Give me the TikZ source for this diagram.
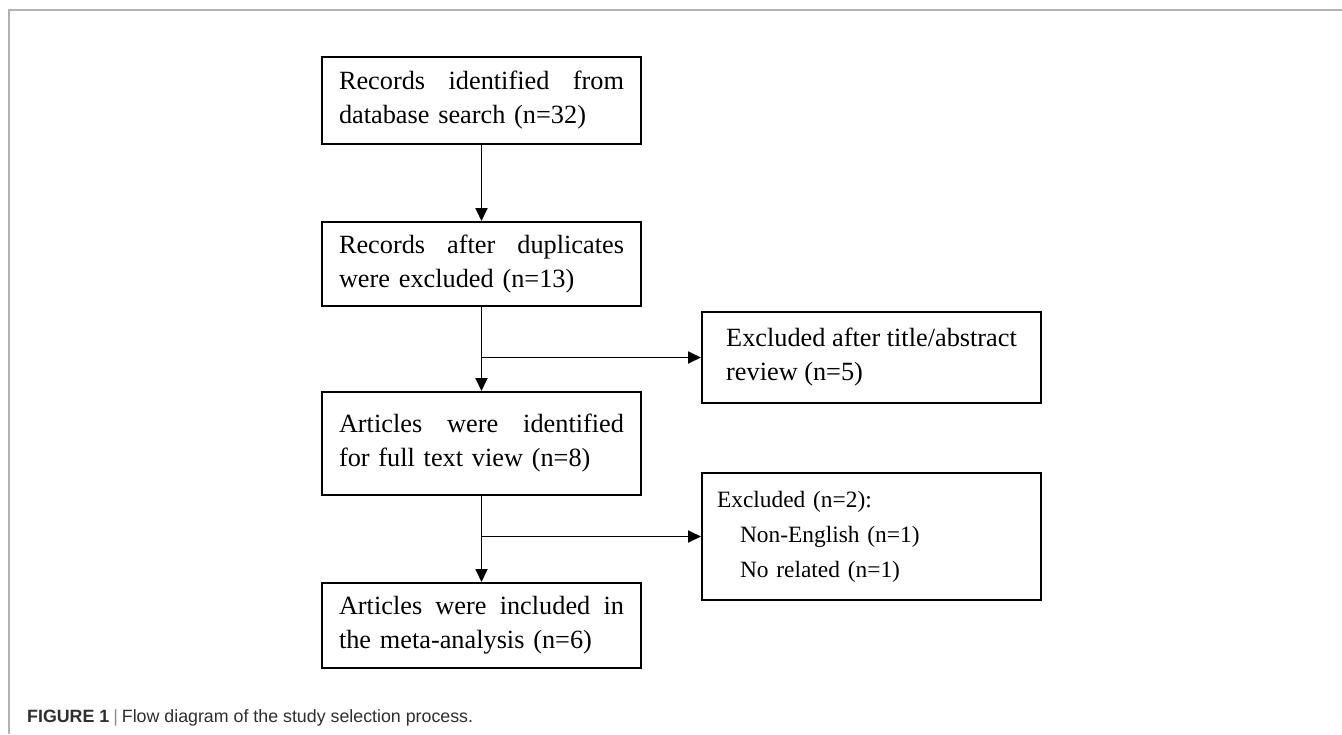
\documentclass[tikz,border=0pt]{standalone}
\usepackage{fontspec}
\setmainfont{Liberation Serif}
\newfontfamily\capfont{Liberation Sans}
\usetikzlibrary{arrows.meta}

\begin{document}
\begin{tikzpicture}[x=1pt,y=-1pt,
  box/.style={draw=black, line width=2pt, text width=285pt, inner xsep=17pt, inner ysep=0pt, minimum height=#1, align=left, font=\fontsize{26.3}{34}\selectfont},
  exbox/.style={draw=black, line width=2pt, minimum width=339pt, inner sep=0pt, minimum height=#1, align=left, font=\fontsize{26.3}{34}\selectfont},
  arr/.style={draw=black, line width=1.8pt, -{Triangle[length=13pt,width=12pt]}}
]
\useasboundingbox (0,0) rectangle (1342,734);
\draw [gray!60, line width=1.5pt] (9,734) -- (9,10) -- (1342,10);
% main column
\node [box=87pt] (rec) at (481.5,100.5) {Records\hfill identified\hfill from\\database search (n=32)};
\node [box=84pt] (dup) at (481.5,264) {Records\hfill after\hfill duplicates\\were excluded (n=13)};
\node [box=103pt] (full) at (481.5,443.5) {Articles\hfill were\hfill identified\\for full text view (n=8)};
\node [box=85pt] (incl) at (481.5,625.5) {Articles\hfill were\hfill included\hfill in\\the meta-analysis (n=6)};
% side boxes
\node [exbox=91pt] (exone) at (871.5,357.5) {Excluded after title/abstract\\review (n=5)};
\node [box=127pt, text width=309pt, inner xsep=15pt, font=\fontsize{23.4}{35}\selectfont] (extwo) at (871.5,536.5) {Excluded (n=2):\\\hspace*{23pt}Non-English (n=1)\\\hspace*{23pt}No related (n=1)};
% arrows
\draw [arr] (rec.south) -- (dup.north);
\draw [arr] (dup.south) -- (full.north);
\draw [arr] (full.south) -- (incl.north);
\draw [arr] (dup.south |- exone.west) -- (exone.west);
\draw [arr] (full.south |- extwo.west) -- (extwo.west);
% caption
\node [anchor=base west, inner sep=0pt, text=black!82, font=\capfont\fontsize{17.8}{20}\selectfont] (cap) at (27,722) {\textbf{FIGURE 1}\hspace{4pt}{\color{black!45}|}\hspace{4pt}Flow diagram of the study selection process.};
\end{tikzpicture}
\end{document}
